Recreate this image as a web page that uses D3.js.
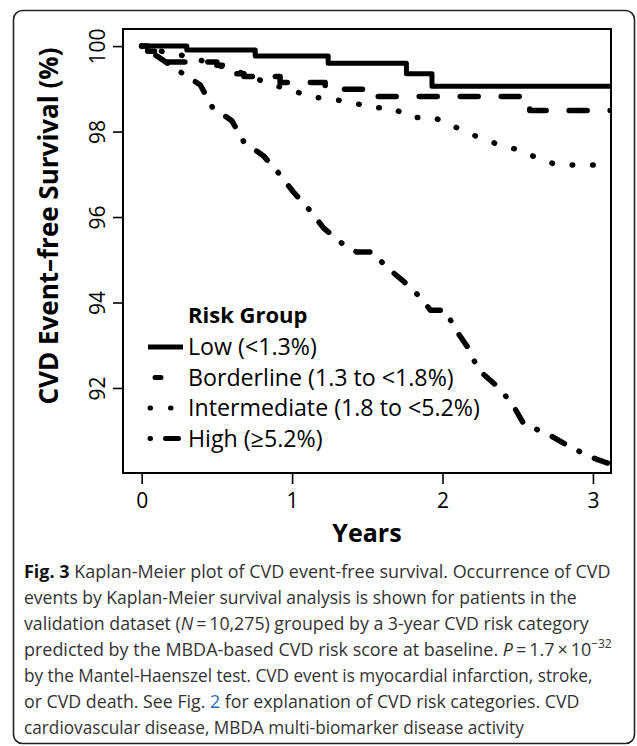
<!DOCTYPE html>
<html>
<head>
<meta charset="utf-8">
<script src="https://cdn.jsdelivr.net/npm/d3@7"></script>
<style>
  body { margin: 0; background: #fff; }
  svg { display: block; }
  .tick text { font-family: "Open Sans", sans-serif; }
</style>
</head>
<body>
<div id="chart"></div>
<script>
// axis ticks
var yearTicks = [0, 1, 2, 3]
var survTicks = [92, 94, 96, 98, 100]

// Kaplan-Meier curves (years, survival %)
var lowT = [0, 0.30, 0.755, 1.24, 1.76, 1.93, 3.12]
var lowS = [100, 99.91, 99.77, 99.60, 99.35, 99.06, 99.06]

var borderT = [0, 0.04, 0.09, 0.15, 0.50, 0.55, 0.60, 0.68, 0.92, 1.22, 1.50, 2.58, 3.12]
var borderS = [100, 99.88, 99.76, 99.63, 99.55, 99.45, 99.35, 99.29, 99.15, 98.99, 98.82, 98.49, 98.49]

var interT = [0, 0.10, 0.25, 0.39, 0.63, 0.87, 1.00, 1.12, 1.26, 1.40, 1.53, 1.67, 1.78, 1.94, 2.06, 2.17, 2.28, 2.39, 2.52, 2.63, 2.76, 2.92, 3.12]
var interS = [100, 99.9, 99.8, 99.67, 99.42, 99.09, 98.97, 98.81, 98.76, 98.68, 98.56, 98.55, 98.33, 98.33, 98.15, 97.96, 97.82, 97.67, 97.56, 97.38, 97.22, 97.22, 97.22]

var highT = [0, 0.13, 0.26, 0.39, 0.47, 0.60, 0.68, 0.81, 0.91, 1.01, 1.11, 1.21, 1.33, 1.43, 1.54, 1.62, 1.74, 1.85, 1.92, 2.02, 2.08, 2.17, 2.24, 2.36, 2.46, 2.54, 2.70, 2.84, 2.98, 3.09, 3.12]
var highS = [100, 99.7, 99.39, 99.09, 98.57, 98.25, 97.75, 97.43, 97.03, 96.58, 96.19, 95.74, 95.39, 95.18, 95.18, 94.85, 94.50, 94.13, 93.82, 93.82, 93.40, 92.94, 92.42, 92.05, 91.65, 91.16, 90.92, 90.64, 90.39, 90.25, 90.22]

var groupNames = ['Low (<1.3%)', 'Borderline (1.3 to <1.8%)', 'Intermediate (1.8 to <5.2%)', 'High (\u22655.2%)']

var W = 637, H = 746
var plot = {left: 123, right: 611, top: 29, bottom: 473}

var svg = d3.select('#chart').append('svg')
  .attr('width', W)
  .attr('height', H)

// outer rounded frame of the figure
svg.append('rect')
  .attr('x', 13.5).attr('y', 10.5)
  .attr('width', 621).attr('height', 733)
  .attr('rx', 9)
  .attr('fill', 'none')
  .attr('stroke', '#222')
  .attr('stroke-width', 1.6)

var x = d3.scaleLinear().domain([-0.124, 3.12]).range([plot.left, plot.right])
var y = d3.scaleLinear().domain([90.01, 100.4]).range([plot.bottom, plot.top])

svg.append('clipPath').attr('id', 'clip')
  .append('rect')
  .attr('x', plot.left).attr('y', plot.top)
  .attr('width', plot.right - plot.left).attr('height', plot.bottom - plot.top)

var styles = [
  {curve: d3.curveStepAfter, dash: null},
  {curve: d3.curveStepAfter, dash: '18 23'},
  {curve: d3.curveLinear, dash: '0.5 20'},
  {curve: d3.curveLinear, dash: '0.5 16.5 14 16.5'}
]
var series = [
  {t: lowT, s: lowS},
  {t: borderT, s: borderS},
  {t: interT, s: interS},
  {t: highT, s: highS}
]

var curves = svg.append('g').attr('clip-path', 'url(#clip)')
series.forEach(function(d, i) {
  var pts = d.t.map(function(t, k) { return [t, d.s[k]] })
  var line = d3.line()
    .x(function(p) { return x(p[0]) })
    .y(function(p) { return y(p[1]) })
    .curve(styles[i].curve)
  curves.append('path')
    .attr('d', line(pts))
    .attr('fill', 'none')
    .attr('stroke', '#000')
    .attr('stroke-width', i == 0 ? 5 : 5.5)
    .attr('stroke-linecap', i == 0 ? 'butt' : 'round')
    .attr('stroke-linejoin', 'round')
    .attr('stroke-dasharray', styles[i].dash)
})

// plot box
svg.append('rect')
  .attr('x', plot.left).attr('y', plot.top)
  .attr('width', plot.right - plot.left).attr('height', plot.bottom - plot.top)
  .attr('fill', 'none')
  .attr('stroke', '#000')
  .attr('stroke-width', 2)

// axes
var yAxis = svg.append('g')
  .attr('transform', 'translate(' + plot.left + ',0)')
  .call(d3.axisLeft(y).tickValues(survTicks).tickSize(10).tickPadding(8))
yAxis.select('.domain').remove()
yAxis.selectAll('.tick line').attr('stroke-width', 1.6)
yAxis.selectAll('.tick text')
  .attr('font-size', 21)
  .attr('fill', '#000')
  .attr('text-anchor', 'middle')
  .attr('x', 0).attr('dy', 0)
  .attr('transform', 'translate(-18,0) rotate(-90)')

var xAxis = svg.append('g')
  .attr('transform', 'translate(0,' + plot.bottom + ')')
  .call(d3.axisBottom(x).tickValues(yearTicks).tickFormat(d3.format('d')).tickSize(11).tickPadding(6))
xAxis.select('.domain').remove()
xAxis.selectAll('.tick line').attr('stroke-width', 1.6)
xAxis.selectAll('.tick text')
  .attr('font-size', 21)
  .attr('fill', '#000')
  .attr('dy', 0).attr('y', 35)

svg.append('text')
  .attr('transform', 'translate(58,226) rotate(-90)')
  .attr('text-anchor', 'middle')
  .attr('font-family', '"Open Sans", sans-serif')
  .attr('font-weight', 'bold')
  .attr('font-size', 26)
  .text('CVD Event\u2013free Survival (%)')

svg.append('text')
  .attr('x', (plot.left + plot.right) / 2)
  .attr('y', 542)
  .attr('text-anchor', 'middle')
  .attr('font-family', '"Open Sans", sans-serif')
  .attr('font-weight', 'bold')
  .attr('font-size', 25)
  .text('Years')

// legend
var legend = svg.append('g')
legend.append('text')
  .attr('x', 188).attr('y', 323)
  .attr('font-family', '"Open Sans", sans-serif')
  .attr('font-weight', 'bold')
  .attr('font-size', 22)
  .text('Risk Group')

var legendSamples = [
  {x1: 148, x2: 183, dash: null, cap: 'butt'},
  {x1: 155, x2: 161, dash: null, cap: 'round'},
  {x1: 150, x2: 171, dash: '0.5 20', cap: 'round'},
  {x1: 150, x2: 181, dash: '0.5 15 13 100', cap: 'round'}
]
groupNames.forEach(function(name, i) {
  var base = 355 + i * 30.5
  var s = legendSamples[i]
  legend.append('line')
    .attr('x1', s.x1).attr('x2', s.x2)
    .attr('y1', base - 8).attr('y2', base - 8)
    .attr('stroke', '#000')
    .attr('stroke-width', 5)
    .attr('stroke-linecap', s.cap)
    .attr('stroke-dasharray', s.dash)
  legend.append('text')
    .attr('x', 188).attr('y', base)
    .attr('font-family', '"Open Sans", sans-serif')
    .attr('font-size', 23.2)
    .text(name)
})

// caption, one entry per printed line: [text, style]
var captionLines = [
  [['Fig. 3', 'b'], [' Kaplan-Meier plot of CVD event-free survival. Occurrence of CVD', '']],
  [['events by Kaplan-Meier survival analysis is shown for patients in the', '']],
  [['validation dataset (', ''], ['N', 'i'], ['\u2009=\u200910,275) grouped by a 3-year CVD risk category', '']],
  [['predicted by the MBDA-based CVD risk score at baseline. ', ''], ['P', 'i'], ['\u2009=\u20091.7\u2009\u00d7\u200910', ''], ['\u221232', 'sup']],
  [['by the Mantel-Haenszel test. CVD event is myocardial infarction, stroke,', '']],
  [['or CVD death. See Fig. ', ''], ['2', 'link'], [' for explanation of CVD risk categories. CVD', '']],
  [['cardiovascular disease, MBDA multi-biomarker disease activity', '']]
]
var captionEnds = [611, 577, 589, 612, 593, 580, 524]

captionLines.forEach(function(parts, i) {
  var g = svg.append('g')
  var t = g.append('text')
    .attr('x', 0).attr('y', 0)
    .attr('font-family', '"Open Sans", sans-serif')
    .attr('font-size', 18)
    .attr('fill', '#333')
  parts.forEach(function(p) {
    var sp = t.append('tspan').text(p[0])
    if (p[1] == 'b') sp.attr('font-weight', 'bold').attr('fill', '#111')
    if (p[1] == 'i') sp.attr('font-style', 'italic')
    if (p[1] == 'link') sp.attr('fill', '#2a6ebb')
    if (p[1] == 'sup') sp.attr('font-size', 12).attr('dy', -8)
  })
  var w = t.node().getComputedTextLength()
  var sx = (captionEnds[i] - 24) / w
  g.attr('transform', 'translate(24,' + (578 + i * 26) + ') scale(' + sx + ',1)')
})
</script>
</body>
</html>
